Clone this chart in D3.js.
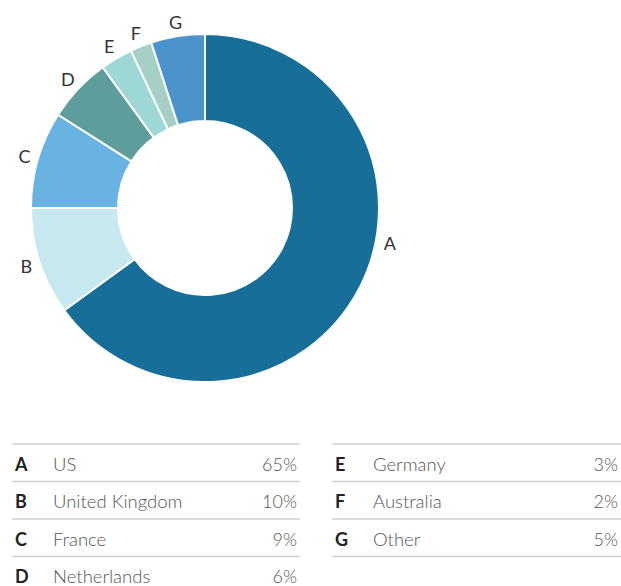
<!DOCTYPE html>
<html>
<head>
<meta charset="utf-8">
<script src="https://cdn.jsdelivr.net/npm/d3@7"></script>
<style>
  body { margin: 0; background: #fff; }
  text { font-family: Lato, "Open Sans", sans-serif; }
</style>
</head>
<body>
<div id="viz"></div>
<script>
// data
var letters = ['A', 'B', 'C', 'D', 'E', 'F', 'G'];
var countries = ['US', 'United Kingdom', 'France', 'Netherlands', 'Germany', 'Australia', 'Other'];
var shares = [65, 10, 9, 6, 3, 2, 5];
var colors = ['#176e99', '#c8e8ef', '#69b3e3', '#5f9c9c', '#9dd7d6', '#a6cfc5', '#4a94cb'];

var width = 621;
var height = 586;

var svg = d3.select('#viz')
    .append('svg')
    .attr('width', width)
    .attr('height', height);

var data = letters.map(function(l, i) {
    return { letter: l, country: countries[i], value: shares[i], color: colors[i] };
});

var cx = 205, cy = 208;
var outerR = 174, innerR = 87, labelR = 188;

var pie = d3.pie().sort(null).value(function(d) { return d.value; });
var arc = d3.arc().innerRadius(innerR).outerRadius(outerR);

var g = svg.append('g')
    .attr('transform', 'translate(' + cx + ',' + cy + ')');

var arcs = pie(data);

g.selectAll('.slice')
    .data(arcs)
    .enter()
    .append('path')
    .attr('class', 'slice')
    .attr('d', arc)
    .attr('fill', function(d) { return d.data.color; })
    .attr('stroke', '#fff')
    .attr('stroke-width', 2);

// labels sit on a ring just outside the donut; the big slice's label is pulled up
g.selectAll('.lbl')
    .data(arcs)
    .enter()
    .append('text')
    .attr('class', 'lbl')
    .each(function(d) {
        var a = (d.startAngle + d.endAngle) / 2;
        if (d.endAngle - d.startAngle > Math.PI) a = (d.startAngle + d.endAngle) * 0.43;
        d3.select(this)
            .attr('x', labelR * Math.sin(a))
            .attr('y', -labelR * Math.cos(a));
    })
    .attr('text-anchor', 'middle')
    .attr('dominant-baseline', 'central')
    .style('font-size', '18px')
    .attr('fill', '#333')
    .text(function(d) { return d.data.letter; });

// legend table
var rowH = 37.5;
var top0 = 444;
var cols = [{ x0: 12, x1: 300 }, { x0: 332, x1: 621 }];
var perCol = 4;

data.forEach(function(d, i) {
    var c = cols[Math.floor(i / perCol)];
    var r = i % perCol;
    var y = top0 + r * rowH;

    svg.append('line')
        .attr('x1', c.x0).attr('x2', c.x1)
        .attr('y1', y).attr('y2', y)
        .attr('stroke', '#cfcfcf')
        .attr('stroke-width', 1.3);

    var ty = y + rowH / 2 + 1;
    svg.append('text')
        .attr('x', c.x0 + 3)
        .attr('y', ty)
        .attr('dominant-baseline', 'central')
        .style('font-size', '18px')
        .style('font-weight', 'bold')
        .attr('fill', '#222')
        .text(d.letter);

    svg.append('text')
        .attr('x', c.x0 + 41)
        .attr('y', ty)
        .attr('dominant-baseline', 'central')
        .style('font-size', '18.5px')
        .style('font-weight', 300)
        .attr('fill', '#555')
        .text(d.country);

    svg.append('text')
        .attr('x', c.x1 - 3)
        .attr('y', ty)
        .attr('text-anchor', 'end')
        .attr('dominant-baseline', 'central')
        .style('font-size', '18px')
        .style('font-weight', 300)
        .attr('fill', '#555')
        .text(d.value + '%');

    // closing line under the last row of the second column
    if (i === data.length - 1) {
        svg.append('line')
            .attr('x1', c.x0).attr('x2', c.x1)
            .attr('y1', y + rowH).attr('y2', y + rowH)
            .attr('stroke', '#cfcfcf')
            .attr('stroke-width', 1.3);
    }
});
</script>
</body>
</html>
